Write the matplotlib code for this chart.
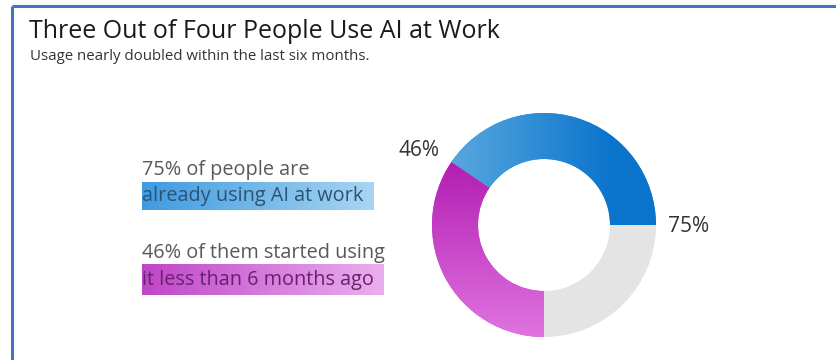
import numpy as np
import matplotlib
matplotlib.use("Agg")
import matplotlib.pyplot as plt

# ---- data ----
title = "Three Out of Four People Use AI at Work"
subtitle = "Usage nearly doubled within the last six months."
usage_pct = 75          # people using AI at work
new_share_pct = 46      # of users, started < 6 months ago
segment_names = ["Using > 6 months", "Started < 6 months ago", "Not using"]
segment_values = [usage_pct * (100 - new_share_pct) / 100,
                  usage_pct * new_share_pct / 100,
                  100 - usage_pct]
line1a = "75% of people are"
line1b = "already using AI at work"
line2a = "46% of them started using"
line2b = "it less than 6 months ago"

W, H = 837, 360
fig = plt.figure(figsize=(W / 100, H / 100), dpi=100)
fig.patch.set_facecolor("white")
FONT = "Open Sans"

# background axes in pixel coords
bg = fig.add_axes([0, 0, 1, 1])
bg.set_xlim(0, W)
bg.set_ylim(H, 0)
bg.axis("off")

# blue frame (top and left)
bg.plot([12, W], [6, 6], color="#4472c4", lw=2.2, solid_capstyle="butt")
bg.plot([12, 12], [6, H], color="#4472c4", lw=2.2, solid_capstyle="butt")

bg.text(29, 31, title, fontsize=18, family=FONT, color="#1a1a1a", va="center", ha="left")
bg.text(30, 56, subtitle, fontsize=10.8, family=FONT, color="#333333", va="center", ha="left")

def grad_box(x0, y0, x1, y1, c0, c1):
    n = 256
    c0 = np.array(matplotlib.colors.to_rgb(c0))
    c1 = np.array(matplotlib.colors.to_rgb(c1))
    t = np.linspace(0, 1, n)[None, :, None]
    img = c0 * (1 - t) + c1 * t
    bg.imshow(img, extent=[x0, x1, y1, y0], aspect="auto", zorder=1, interpolation="bilinear")

grad_box(142, 182, 374, 210, "#3f9be0", "#a9d5f2")
grad_box(142, 264, 384, 295, "#c046c8", "#eab0ee")
bg.set_xlim(0, W)
bg.set_ylim(H, 0)

TS = 14.3
bg.text(142, 170, line1a, fontsize=TS, family=FONT, color="#595959", va="center", zorder=3)
bg.text(142, 196, line1b, fontsize=TS, family=FONT, color="#2a5478", va="center", zorder=3)
bg.text(142, 253, line2a, fontsize=TS, family=FONT, color="#595959", va="center", zorder=3)
bg.text(142, 280, line2b, fontsize=TS, family=FONT, color="#6a2070", va="center", zorder=3)

bg.text(419, 151, f"{new_share_pct}%", fontsize=15, family=FONT, color="#333333", va="center", ha="center")
bg.text(689, 226, f"{usage_pct}%", fontsize=15, family=FONT, color="#333333", va="center", ha="center")

# donut
cx, cy, R = 544, 225, 112
half = 1.2 * R
ax = fig.add_axes([(cx - half) / W, (H - cy - half) / H, 2 * half / W, 2 * half / H])
ax.set_xlim(-1.2, 1.2)
ax.set_ylim(-1.2, 1.2)
ax.set_aspect("equal")
ax.axis("off")
colors = ["#2a8ad6", "#d040d0", "#e4e4e4"]
wedges, _ = ax.pie(segment_values, colors=colors, startangle=0, counterclock=True,
                   radius=1.0, wedgeprops=dict(width=1 - 66 / 112, linewidth=0))

# gradients clipped to wedges
yy, xx = np.mgrid[1.2:-1.2:300j, -1.2:1.2:300j]
def wedge_grad(w, f):
    img = f(xx, yy)
    im = ax.imshow(img, extent=[-1.2, 1.2, -1.2, 1.2], zorder=2, interpolation="bilinear")
    im.set_clip_path(w)

c_bl0 = np.array(matplotlib.colors.to_rgb("#62aee0"))
c_bl1 = np.array(matplotlib.colors.to_rgb("#0a74cc"))
def blue_f(x, y):
    t = np.clip((x + 1.0) / 1.6, 0, 1)[..., None]
    return c_bl0 * (1 - t) + c_bl1 * t
c_pu0 = np.array(matplotlib.colors.to_rgb("#b81cb8"))
c_pu1 = np.array(matplotlib.colors.to_rgb("#e878e8"))
def purple_f(x, y):
    t = np.clip((0.6 - y) / 1.6, 0, 1)[..., None]
    base = c_pu0 * (1 - t) + c_pu1 * t
    dots = ((np.round(x * 60) + np.round(y * 60)) % 2 == 0)[..., None]
    return np.clip(base * np.where(dots, 0.93, 1.0), 0, 1)
wedge_grad(wedges[0], blue_f)
wedge_grad(wedges[1], purple_f)
ax.set_xlim(-1.2, 1.2)
ax.set_ylim(-1.2, 1.2)

fig.savefig("out.png", dpi=100, facecolor="white")
